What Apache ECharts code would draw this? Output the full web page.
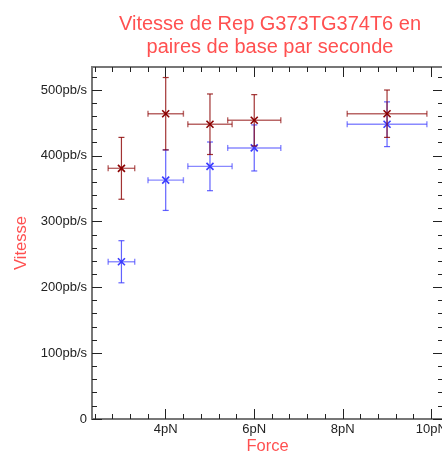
<!DOCTYPE html>
<html>
<head>
<meta charset="utf-8">
<script src="https://cdn.jsdelivr.net/npm/echarts@6/dist/echarts.min.js"></script>
<style>
html,body{margin:0;padding:0;background:#fff;}
#chart{width:442px;height:453px;}
</style>
</head>
<body>
<div id="chart"></div>
<script>
// valeurs
var forces = [3, 4, 5, 6, 9];
var forceErr = [0.3, 0.4, 0.5, 0.6, 0.9];
var vitesseRouge = [381, 464, 448, 454, 464];
var errRouge = [47, 55, 46, 39, 36];
var vitesseBleu = [239, 363, 384, 412, 448];
var errBleu = [32, 46, 37, 35, 34];

var xMajor = [4, 6, 8, 10];
var xMinor = [2.4, 2.8, 3.2, 3.6, 4.4, 4.8, 5.2, 5.6, 6.4, 6.8, 7.2, 7.6, 8.4, 8.8, 9.2, 9.6, 10.0];
var yMajor = [0, 100, 200, 300, 400, 500];
var yMinor = [20, 40, 60, 80, 120, 140, 160, 180, 220, 240, 260, 280, 320, 340, 360, 380, 420, 440, 460, 480, 520];

var FONT = "'Liberation Sans', Arial, sans-serif";
var xMin = 2.335, xMax = 10.264, yMin = 0, yMax = 535;

function rows(v, e){
	var out = [];
	for(var i=0;i<forces.length;i++){
		out.push([forces[i], v[i], forceErr[i], e[i]]);
	}
	return out;
}

function errRender(col){
	return function(params, api){
		var x = api.value(0), y = api.value(1), xe = api.value(2), ye = api.value(3);
		var c = api.coord([x, y]);
		var l = api.coord([x - xe, y]), r = api.coord([x + xe, y]);
		var t = api.coord([x, y + ye]), b = api.coord([x, y - ye]);
		var cap = 3, m = 3.5;
		var hs = {stroke: col, lineWidth: 1.4, opacity: 0.6};
		var vs = {stroke: col, lineWidth: 1.2, opacity: 0.8};
		var ms = {stroke: col, lineWidth: 1.6};
		return {
			type: 'group',
			children: [
				{type:'line', shape:{x1:l[0], y1:l[1], x2:r[0], y2:r[1]}, style:hs},
				{type:'line', shape:{x1:l[0], y1:l[1]-cap, x2:l[0], y2:l[1]+cap}, style:hs},
				{type:'line', shape:{x1:r[0], y1:r[1]-cap, x2:r[0], y2:r[1]+cap}, style:hs},
				{type:'line', shape:{x1:t[0], y1:t[1], x2:b[0], y2:b[1]}, style:vs},
				{type:'line', shape:{x1:t[0]-cap, y1:t[1], x2:t[0]+cap, y2:t[1]}, style:vs},
				{type:'line', shape:{x1:b[0]-cap, y1:b[1], x2:b[0]+cap, y2:b[1]}, style:vs},
				{type:'line', shape:{x1:c[0]-m, y1:c[1]-m, x2:c[0]+m, y2:c[1]+m}, style:ms},
				{type:'line', shape:{x1:c[0]-m, y1:c[1]+m, x2:c[0]+m, y2:c[1]-m}, style:ms}
			]
		};
	};
}

var lineSt = {color:'#777', width:2};
var tickSt = {color:'#222', width:1};

function xAx(grid, pos, ticks, len, labels){
	return {
		type:'value', gridIndex:grid, position:pos, min:xMin, max:xMax,
		axisLine:{show:true, onZero:false, lineStyle:lineSt},
		axisTick:{show:true, inside:true, length:len, customValues:ticks, lineStyle:tickSt},
		axisLabel:{show:labels, customValues:xMajor, color:'#222', fontSize:13, fontFamily:FONT, margin:4,
			formatter:function(v){ return v + 'pN'; }},
		splitLine:{show:false}
	};
}
function yAx(grid, pos, ticks, len, labels){
	return {
		type:'value', gridIndex:grid, position:pos, min:yMin, max:yMax,
		axisLine:{show:true, onZero:false, lineStyle:lineSt},
		axisTick:{show:true, inside:true, length:len, customValues:ticks, lineStyle:tickSt},
		axisLabel:{show:labels, customValues:yMajor, color:'#222', fontSize:13, fontFamily:FONT, margin:5,
			formatter:function(v){ return v === 0 ? '0' : v + 'pb/s'; }},
		splitLine:{show:false}
	};
}

var xAxes = [xAx(0,'bottom',xMajor,10,true), xAx(0,'top',xMajor,10,false), xAx(1,'bottom',xMinor,5,false), xAx(1,'top',xMinor,5,false)];
xAxes[0].name = 'Force';
xAxes[0].nameLocation = 'middle';
xAxes[0].nameGap = 19;
xAxes[0].nameMoveOverlap = false;
xAxes[0].nameTextStyle = {color:'#ff5050', fontSize:16.5, fontFamily:FONT};

var yAxes = [yAx(0,'left',yMajor,10,true), yAx(0,'right',yMajor,10,false), yAx(1,'left',yMinor,5,false), yAx(1,'right',yMinor,5,false)];
yAxes[0].name = 'Vitesse';
yAxes[0].nameLocation = 'middle';
yAxes[0].nameGap = 62;
yAxes[0].nameMoveOverlap = false;
yAxes[0].nameTextStyle = {color:'#ff5050', fontSize:16.5, fontFamily:FONT};

var gridBox = {left:92, top:67, right:-1, bottom:34, containLabel:false, outerBoundsMode:'none'};

var chart = echarts.init(document.getElementById('chart'), null, {renderer:'canvas'});
chart.setOption({
	animation:false,
	backgroundColor:'#fff',
	title:{
		text:'Vitesse de Rep G373TG374T6 en\npaires de base par seconde',
		left:270, top:13, padding:0, textAlign:'center',
		textStyle:{color:'#ff5050', fontSize:20, fontWeight:'normal', fontFamily:FONT, lineHeight:23}
	},
	grid:[Object.assign({}, gridBox), Object.assign({}, gridBox)],
	xAxis:xAxes,
	yAxis:yAxes,
	series:[
		{type:'custom', name:'bleu', xAxisIndex:0, yAxisIndex:0, data:rows(vitesseBleu, errBleu),
			encode:{x:0, y:1}, renderItem:errRender('#3b3bff'), z:2},
		{type:'custom', name:'rouge', xAxisIndex:0, yAxisIndex:0, data:rows(vitesseRouge, errRouge),
			encode:{x:0, y:1}, renderItem:errRender('#8b0000'), z:3}
	]
});
</script>
</body>
</html>
